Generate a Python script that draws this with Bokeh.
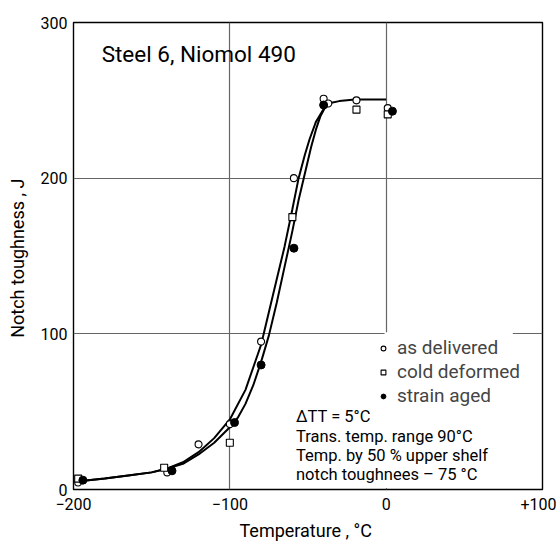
from bokeh.plotting import figure
from bokeh.models import Label, Legend, LegendItem, BoxAnnotation, FixedTicker
from bokeh.embed import file_html
from bokeh.resources import INLINE

# ---- data ----
deliv_t = [-197, -140, -120, -100, -80, -59, -40, -37, -19, 1]
deliv_j = [4.5, 11, 29, 42, 95, 200, 251, 248, 250, 245]

cold_t = [-197, -142, -100, -60, -19, 1]
cold_j = [7, 14, 30, 175, 244, 241]

aged_t = [-194, -137, -97, -80, -59, -40, 4]
aged_j = [6, 12, 43, 80, 155, 247, 243]

# fitted curves (drawn lines)
curve1_t = [-195, -180, -165, -150, -140, -130, -120, -110, -100, -90, -80, -75, -70, -65, -60, -56, -52, -49, -45, -40, -35, -30, -20, 0]
curve1_j = [5.5, 7, 9, 11, 13.5, 17.5, 24, 33, 45, 64, 93, 114, 135, 156, 180, 200, 215, 225, 236, 244.5, 248.5, 249.5, 250.5, 250.5]

curve2_t = [-195, -180, -165, -150, -140, -130, -120, -110, -100, -95, -90, -85, -80, -75, -70, -65, -60, -56, -52, -48, -45, -42, -39, -36]
curve2_j = [5.5, 7, 9, 11, 13.5, 16.5, 22.5, 30, 40, 46, 55, 67, 82, 99, 120, 143, 166, 186, 203, 220, 231, 240, 245.5, 248.5]

x_ticks = [-200, -100, 0, 100]
x_tick_labels = ["\u2212200", "\u2212100", "0", "+100"]
y_ticks = [0, 100, 200, 300]

FONT = "Roboto"

p = figure(width=556, height=543, output_backend="svg", toolbar_location=None,
           x_range=(-200, 100), y_range=(0, 300),
           min_border_left=73, min_border_right=14, min_border_top=22, min_border_bottom=52)

p.outline_line_color = "black"
p.outline_line_width = 1.4

# grid
p.xgrid.ticker = FixedTicker(ticks=[-100, 0])
p.ygrid.ticker = FixedTicker(ticks=[100, 200])
for g in (p.xgrid, p.ygrid):
    g.grid_line_color = "#666666"
    g.grid_line_width = 1.2

# axes
p.xaxis.ticker = FixedTicker(ticks=x_ticks)
p.xaxis.major_label_overrides = {t: l for t, l in zip(x_ticks, x_tick_labels)}
p.yaxis.ticker = FixedTicker(ticks=y_ticks)
for ax in (p.xaxis, p.yaxis):
    ax.axis_line_color = None
    ax.major_tick_out = 0
    ax.major_tick_in = 0
    ax.minor_tick_out = 0
    ax.minor_tick_in = 0
    ax.major_label_text_font = FONT
    ax.major_label_text_font_size = "16px"
    ax.major_label_text_color = "black"
    ax.axis_label_text_font = FONT
    ax.axis_label_text_font_size = "18px"
    ax.axis_label_text_font_style = "normal"
    ax.axis_label_text_color = "black"
p.xaxis.axis_label = "Temperature ,  \u00b0C"
p.yaxis.axis_label = "Notch  toughness , J"
p.xaxis.major_label_standoff = 8
p.yaxis.major_label_standoff = 6
p.xaxis.axis_label_standoff = 7
p.yaxis.axis_label_standoff = 10

# white masks behind the annotation text
p.add_layout(BoxAnnotation(left=-68, right=99, bottom=1, top=60, fill_color="white", fill_alpha=1, line_alpha=0))
p.add_layout(BoxAnnotation(left=-1, right=81, bottom=55, top=101, fill_color="white", fill_alpha=1, line_alpha=0))

# curves
p.line(curve1_t, curve1_j, line_color="black", line_width=2)
p.line(curve2_t, curve2_j, line_color="black", line_width=2)

# points
r1 = p.scatter(deliv_t, deliv_j, marker="circle", size=7, fill_color="white", line_color="black", line_width=1.1)
r2 = p.scatter(cold_t, cold_j, marker="square", size=7, fill_color="white", line_color="black", line_width=1.1)
r3 = p.scatter(aged_t, aged_j, marker="circle", size=8, fill_color="black", line_color="black")

legend = Legend(items=[LegendItem(label="as delivered", renderers=[r1]),
                       LegendItem(label="cold deformed", renderers=[r2]),
                       LegendItem(label="strain aged", renderers=[r3])],
                location=(304, 82), padding=0, margin=0, spacing=1,
                glyph_width=12, glyph_height=20, label_height=20, label_standoff=8,
                label_text_font=FONT, label_text_font_size="19px",
                border_line_alpha=0, background_fill_alpha=0)
p.add_layout(legend)

p.add_layout(Label(x=-182, y=280, text="Steel 6, Niomol 490", text_font=FONT, text_font_size="22.5px",
                   text_baseline="middle", text_color="black"))

lines = ["\u0394TT = 5\u00b0C", "Trans. temp. range  90\u00b0C", "Temp.  by 50 %  upper shelf", " notch  toughnees \u2013 75 \u00b0C"]
ys = [46.7, 33.9, 21.8, 9.6]
for t, yy in zip(lines, ys):
    p.add_layout(Label(x=-57.7, y=yy, text=t, text_font=FONT, text_font_size="16.5px",
                       text_baseline="middle", text_color="black"))

open("out.html", "w").write(file_html(p, INLINE))
